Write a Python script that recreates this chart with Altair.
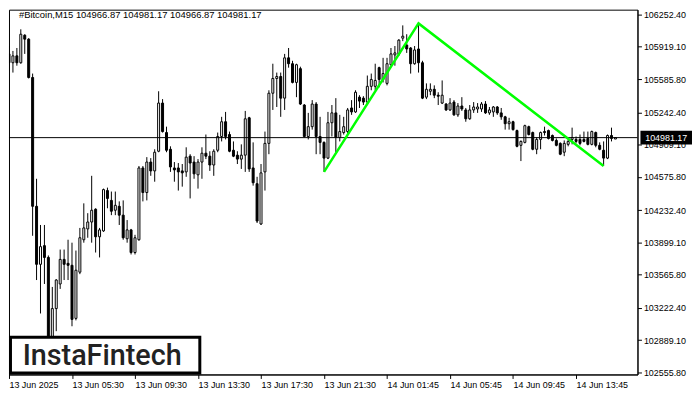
import json
import altair as alt
import pandas as pd

# ---- data ----
opens = [105846.1, 105754.7, 105825.8, 105754.7, 106039.1, 105998.5, 105602.4, 104272.0, 103672.7, 103865.7,
         103743.8, 102880.6, 103215.7, 103469.6, 103723.5, 103682.9, 103662.6, 103114.2, 103591.5, 103926.6,
         104038.4, 104109.5, 104241.5, 103957.1, 104018.1, 104434.4, 104332.9, 104231.3, 104272.0, 104180.5,
         103936.8, 104028.2, 103794.6, 103926.6, 104668.0, 104414.1, 104729.0, 104637.6, 104840.7, 105338.3,
         105033.7, 104861.0, 104668.0, 104668.0, 104637.6, 104627.4, 104789.9, 104729.0, 104596.9, 104729.0,
         104820.4, 104789.9, 104698.5, 104850.8, 104993.0, 105145.4, 105013.3, 104850.8, 104800.1, 104759.4,
         104800.1, 105186.0, 104668.0, 104505.5, 104089.1, 104627.4, 104921.9, 105439.9, 105592.2, 105612.5,
         105389.1, 105805.5, 105744.6, 105551.6, 105693.8, 105318.0, 104993.0, 105094.6, 105328.2, 104993.0,
         104932.1, 104769.6, 105135.2, 105236.8, 104982.9, 105033.7, 105043.8, 105287.6, 105246.9, 105399.3,
         105389.1, 105348.5, 105511.0, 105511.0, 105703.9, 105582.1, 105541.5, 105734.4, 105836.0, 105846.1,
         106008.6, 105937.5, 105907.1, 105744.6, 105896.9, 105754.7, 105399.3, 105460.2, 105480.5, 105419.6,
         105338.3, 105328.2, 105267.2, 105348.5, 105216.5, 105307.9, 105267.2, 105175.8, 105267.2, 105277.4,
         105277.4, 105328.2, 105236.8, 105246.9, 105297.7, 105236.8, 105196.1, 105125.1, 105145.4, 105054.0,
         104901.6, 104932.1, 105094.6, 105033.7, 104861.0, 104962.6, 105043.8, 105054.0, 105003.2, 104952.4,
         104921.9, 104830.5, 104911.8, 104962.6, 104962.6, 104962.6, 104962.6, 104972.7, 104911.8, 105033.7,
         104901.6, 104850.8, 104769.6, 105003.2, 104966.87]

highs = [105927.4, 105876.6, 105907.1, 106100.0, 106049.3, 106008.6, 105643.0, 104556.3, 104079.0, 104079.0,
         103764.2, 103439.2, 103520.4, 103825.1, 103825.1, 103926.6, 103896.2, 103814.9, 104048.5, 104302.4,
         104200.9, 104586.8, 104251.6, 104048.5, 104454.8, 104464.9, 104424.3, 104424.3, 104322.7, 104332.9,
         104129.8, 104038.4, 103977.4, 104688.3, 104688.3, 104779.8, 104769.6, 104861.0, 105460.2, 105379.0,
         105094.6, 104891.5, 104729.0, 104718.8, 104708.7, 104881.3, 104810.2, 104789.9, 104759.4, 104881.3,
         105013.3, 104840.7, 104861.0, 105033.7, 105196.1, 105246.9, 105043.8, 104942.2, 104840.7, 104911.8,
         105257.1, 105196.1, 104932.1, 104576.6, 104708.7, 105043.8, 105470.4, 105744.6, 105653.2, 105653.2,
         105846.1, 105907.1, 105775.0, 105744.6, 105714.1, 105328.2, 105236.8, 105368.8, 105348.5, 105196.1,
         104942.2, 105246.9, 105318.0, 105389.1, 105216.5, 105196.1, 105287.6, 105368.8, 105470.4, 105419.6,
         105409.4, 105622.7, 105643.0, 105744.6, 105714.1, 105805.5, 105805.5, 105907.1, 105927.4, 105998.5,
         106140.7, 106049.3, 105917.2, 105927.4, 106161.0, 105775.0, 105541.5, 105541.5, 105521.1, 105450.0,
         105571.9, 105338.3, 105389.1, 105368.8, 105338.3, 105399.3, 105287.6, 105318.0, 105348.5, 105338.3,
         105348.5, 105358.6, 105297.7, 105307.9, 105307.9, 105287.6, 105206.3, 105186.0, 105155.5, 105064.1,
         104952.4, 105114.9, 105104.7, 105043.8, 104982.9, 105043.8, 105094.6, 105064.1, 105013.3, 104972.7,
         104932.1, 104952.4, 104962.6, 105084.4, 104993.0, 105013.3, 105043.8, 105043.8, 105054.0, 105043.8,
         104932.1, 104942.2, 105013.3, 105084.4, 104981.17]

lows = [105673.5, 105653.2, 105724.3, 105744.6, 105846.1, 105592.2, 103967.3, 103510.3, 103164.9, 103469.6,
        102809.5, 102829.8, 102982.1, 103418.8, 103510.3, 103510.3, 103032.9, 103093.9, 103571.2, 103896.2,
        103947.0, 103896.2, 103794.6, 103743.8, 104007.9, 104251.6, 104180.5, 104180.5, 104079.0, 103926.6,
        103896.2, 103774.3, 103774.3, 103916.5, 104322.7, 104332.9, 104586.8, 104525.9, 104830.5, 105033.7,
        104830.5, 104627.4, 104525.9, 104434.4, 104475.1, 104576.6, 104353.2, 104556.3, 104454.8, 104556.3,
        104759.4, 104637.6, 104586.8, 104830.5, 104942.2, 104962.6, 104830.5, 104779.8, 104708.7, 104657.9,
        104627.4, 104627.4, 104485.2, 104099.3, 104079.0, 104434.4, 104810.2, 105267.2, 105297.7, 105196.1,
        105267.2, 105703.9, 105541.5, 105399.3, 105318.0, 104982.9, 104962.6, 105064.1, 104810.2, 104810.2,
        104627.4, 104759.4, 104993.0, 104830.5, 104942.2, 105013.3, 105023.5, 105216.5, 105236.8, 105287.6,
        105318.0, 105318.0, 105470.4, 105470.4, 105500.8, 105551.6, 105521.1, 105724.3, 105724.3, 105825.8,
        105978.2, 105856.3, 105643.0, 105734.4, 105653.2, 105379.0, 105379.0, 105419.6, 105389.1, 105318.0,
        105328.2, 105257.1, 105257.1, 105206.3, 105196.1, 105257.1, 105145.4, 105165.7, 105236.8, 105236.8,
        105246.9, 105226.6, 105216.5, 105196.1, 105216.5, 105165.7, 105064.1, 105064.1, 105054.0, 104881.3,
        104739.1, 104921.9, 105003.2, 104850.8, 104810.2, 104861.0, 105003.2, 104962.6, 104942.2, 104891.5,
        104800.1, 104789.9, 104891.5, 104911.8, 104921.9, 104901.6, 104932.1, 104901.6, 104901.6, 104881.3,
        104850.8, 104688.3, 104759.4, 104942.2, 104966.87]

closes = [105754.7, 105825.8, 105754.7, 106049.3, 105998.5, 105602.4, 104272.0, 103672.7, 103855.6, 103743.8,
          102880.6, 103215.7, 103510.3, 103723.5, 103672.7, 103662.6, 103104.0, 103611.8, 103947.0, 104048.5,
          104109.5, 104231.3, 103957.1, 104028.2, 104444.6, 104353.2, 104221.2, 104282.1, 104180.5, 103947.0,
          104028.2, 103794.6, 103947.0, 104668.0, 104414.1, 104729.0, 104637.6, 104830.5, 105338.3, 105043.8,
          104850.8, 104678.2, 104647.7, 104627.4, 104617.3, 104779.8, 104718.8, 104607.1, 104729.0, 104820.4,
          104789.9, 104698.5, 104840.7, 104993.0, 105145.4, 104993.0, 104840.7, 104789.9, 104759.4, 104800.1,
          105175.8, 104657.9, 104515.7, 104119.6, 104617.3, 104921.9, 105439.9, 105592.2, 105612.5, 105389.1,
          105805.5, 105744.6, 105551.6, 105734.4, 105328.2, 104993.0, 105094.6, 105328.2, 104993.0, 104932.1,
          104769.6, 105135.2, 105236.8, 104982.9, 105043.8, 105094.6, 105267.2, 105246.9, 105450.0, 105358.6,
          105348.5, 105511.0, 105582.1, 105571.9, 105582.1, 105643.0, 105744.6, 105846.1, 105856.3, 105988.3,
          106028.9, 105896.9, 105744.6, 105886.8, 105754.7, 105389.1, 105480.5, 105480.5, 105419.6, 105409.4,
          105419.6, 105267.2, 105338.3, 105216.5, 105307.9, 105277.4, 105175.8, 105267.2, 105297.7, 105297.7,
          105328.2, 105236.8, 105267.2, 105297.7, 105236.8, 105196.1, 105125.1, 105145.4, 105064.1, 104891.5,
          104942.2, 105104.7, 105013.3, 104861.0, 104962.6, 105033.7, 105033.7, 104972.7, 104952.4, 104901.6,
          104810.2, 104921.9, 104942.2, 104982.9, 104942.2, 104921.9, 104942.2, 104911.8, 105043.8, 104901.6,
          104861.0, 104769.6, 105003.2, 104972.7, 104981.17]

# pattern (double top) vertices
pattern_bars = [80, 104, 151]
pattern_prices = [104627.4, 106161.0, 104688.3]

current_price = 104981.17

y_ticks = [106252.40, 105919.10, 105585.80, 105242.40, 104909.10, 104575.80,
           104232.40, 103899.10, 103565.80, 103222.40, 102889.10, 102555.80]
x_tick_bars = [0, 16, 32, 48, 64, 80, 96, 112, 128, 144]
x_tick_labels = ["13 Jun 2025", "13 Jun 05:30", "13 Jun 09:30", "13 Jun 13:30", "13 Jun 17:30",
                 "13 Jun 21:30", "14 Jun 01:45", "14 Jun 05:45", "14 Jun 09:45", "14 Jun 13:45"]

symbol_name = "#Bitcoin,M15"
logo_text = "InstaFintech"

# ---- chart ----
W, H = 634, 368
FONT = "Liberation Sans"
FS = 9

df = pd.DataFrame({
    "bar": list(range(len(opens))),
    "open": opens, "high": highs, "low": lows, "close": closes,
})
df["dir"] = ["up" if c >= o else "down" for o, c in zip(opens, closes)]

xscale = alt.Scale(domain=[0, 159.6], nice=False, zero=False, padding=0)
yscale = alt.Scale(domain=[102535, 106303], nice=False, zero=False, padding=0)

label_expr = json.dumps(x_tick_labels) + "[round(datum.value / 16)]"
x_axis = alt.Axis(values=x_tick_bars, labelExpr=label_expr, orient="bottom", title=None,
                  grid=False, tickSize=4, labelPadding=2, labelAlign="left", labelBaseline="top",
                  labelFlush=False, labelOverlap=False, labelFont=FONT, labelFontSize=FS,
                  labelColor="black", domainColor="black", tickColor="black")
y_axis = alt.Axis(values=y_ticks, format=".2f", orient="right", title=None, grid=False,
                  tickSize=4, labelPadding=2, labelFont=FONT, labelFontSize=FS,
                  labelColor="black", domainColor="black", tickColor="black",
                  labelOverlap=False, labelFlush=False)


def X(field):
    return alt.X(field, scale=xscale, axis=x_axis)


def Y(field):
    return alt.Y(field, scale=yscale, axis=y_axis)


wicks = alt.Chart(df).mark_rule(color="black", strokeWidth=1, clip=True).encode(
    x=X("bar:Q"), y=Y("low:Q"), y2="high:Q",
)

bodies = alt.Chart(df).mark_bar(width=2, stroke="black", strokeWidth=1, clip=True).encode(
    x=X("bar:Q"), y=Y("open:Q"), y2="close:Q",
    fill=alt.Fill("dir:N", scale=alt.Scale(domain=["up", "down"], range=["white", "black"]), legend=None),
)

price_df = pd.DataFrame({"price": [current_price], "label": [f"{current_price:.2f}"]})
price_line = alt.Chart(price_df).mark_rule(color="black", strokeWidth=1).encode(
    y=Y("price:Q")
)

pat_df = pd.DataFrame({"bar": pattern_bars, "price": pattern_prices})
pattern = alt.Chart(pat_df).mark_line(color="#00ff00", strokeWidth=2.5).encode(
    x=X("bar:Q"), y=Y("price:Q"),
)

box_path = "M-1,-0.27L1,-0.27L1,0.27L-1,0.27Z"
price_box = alt.Chart(price_df).mark_point(shape=box_path, filled=True, fill="black",
                                           opacity=1, strokeWidth=0, size=2704).encode(
    x=alt.value(W + 29), y=Y("price:Q"),
)
price_text = alt.Chart(price_df).mark_text(color="white", font=FONT, fontSize=FS,
                                           align="center", baseline="middle").encode(
    x=alt.value(W + 29), y=Y("price:Q"), text="label:N",
)

title_str = f"{symbol_name}  {opens[-1]:.2f} {highs[-1]:.2f} {lows[-1]:.2f} {closes[-1]:.2f}"
title_df = pd.DataFrame({"t": [title_str]})
title = alt.Chart(title_df).mark_text(align="left", baseline="middle", font=FONT,
                                      fontSize=9.5, color="black").encode(
    x=alt.value(10), y=alt.value(5), text="t:N"
)

logo_df = pd.DataFrame({"t": [logo_text]})
logo_box = alt.Chart(logo_df).mark_rect(fill="white", stroke="black", strokeWidth=3).encode(
    x=alt.value(1.5), x2=alt.value(192.5), y=alt.value(330.5), y2=alt.value(366.5)
)
logo = alt.Chart(logo_df).mark_text(font="Roboto", fontSize=29, fontWeight=500, color="#222222",
                                    align="center", baseline="middle").encode(
    x=alt.value(94), y=alt.value(349), text="t:N"
)

chart = alt.layer(
    wicks, bodies, price_line, pattern, price_box, price_text, title, logo_box, logo
).properties(
    width=W, height=H, padding=0, background="white"
).configure_axis(
    labelOverlap=False
).configure_view(
    stroke="black", strokeWidth=1
)

chart.save("out.html", embed_options={"renderer": "svg", "actions": False})
